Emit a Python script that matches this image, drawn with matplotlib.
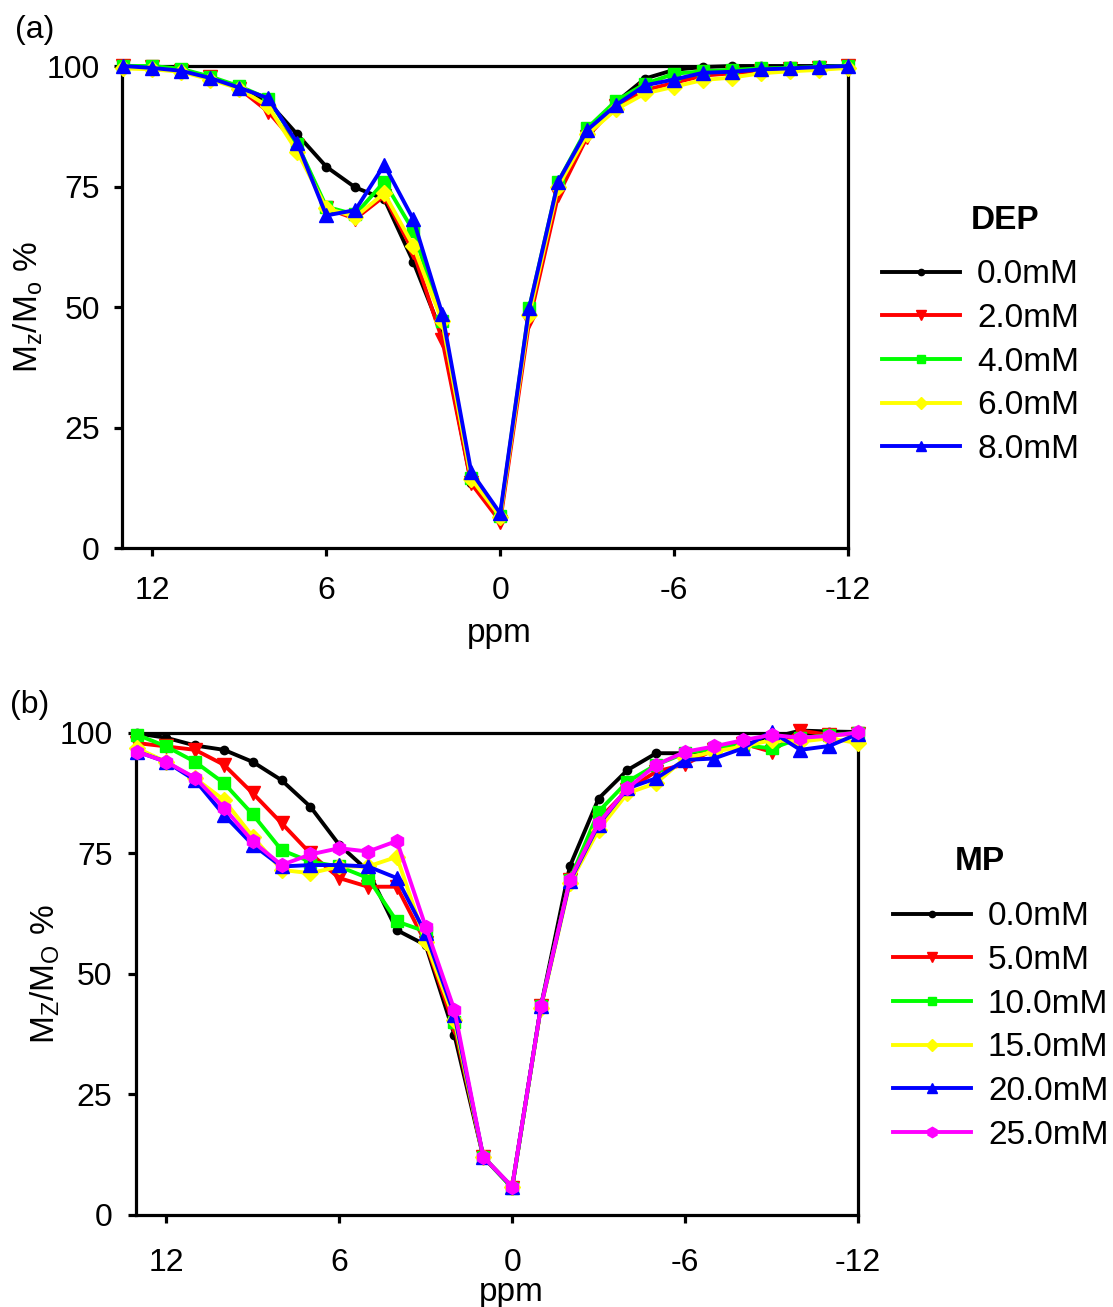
import numpy as np
import matplotlib
matplotlib.use("Agg")
import matplotlib.pyplot as plt

plt.rcParams['font.family'] = ['Liberation Sans', 'DejaVu Sans']
plt.rcParams['axes.unicode_minus'] = False

ppm = np.arange(13, -13, -1)

# (a) DEP series
dep_labels = ["0.0mM", "2.0mM", "4.0mM", "6.0mM", "8.0mM"]
dep_0 = [100, 99.7, 99, 97.5, 95.5, 92.5, 85.8, 79.1, 74.8, 72.4, 59.4, 44.3, 13.5,
         6.5, 48.5, 75, 86.5, 92.5, 97.4, 99.2, 99.8, 100, 100, 100, 100, 100]
dep_2 = [100, 99.7, 99, 97.8, 95.3, 90.5, 83.5, 70.5, 68.3, 73, 61.5, 43.2, 13.4,
         5.5, 47, 73.2, 85.3, 91.8, 95, 96.5, 98, 98.5, 99, 99.3, 99.6, 100]
dep_4 = [100, 100, 99.4, 97.8, 95.8, 93.2, 83.8, 70.8, 69.2, 76, 65.8, 47.2, 14.6,
         6.7, 49.8, 76, 87.1, 92.8, 96.3, 98.4, 98.9, 99.2, 99.5, 99.6, 99.8, 100]
dep_6 = [99.5, 99.3, 98.8, 97.2, 95.3, 91.6, 82.2, 70.5, 68.7, 73.6, 62.7, 47, 14.4,
         6.5, 48.4, 75, 85.8, 91, 94.3, 95.7, 97.1, 97.6, 98.5, 98.9, 99.2, 99.6]
dep_8 = [100, 99.6, 99, 97.5, 95.5, 93.3, 84, 69, 70.1, 79.5, 68.2, 48.6, 15.8,
         7.2, 49.8, 76, 86.7, 91.9, 96, 97.2, 98.6, 98.8, 99.3, 99.5, 99.8, 100]

# (b) MP series
mp_labels = ["0.0mM", "5.0mM", "10.0mM", "15.0mM", "20.0mM", "25.0mM"]
mp_0 = [99.9, 99, 97.4, 96.5, 94, 90.2, 84.7, 76.8, 71.4, 59.1, 56, 37.3, 12,
        5.8, 43.3, 72.3, 86.4, 92.3, 95.8, 95.8, 96.5, 97.5, 99, 100.5, 100.3, 100.2]
mp_5 = [97.9, 97.2, 96.5, 93.4, 87.5, 81.3, 75, 69.9, 68.1, 68.1, 56.5, 39, 12,
        5.7, 43.3, 69.5, 82, 88.2, 92, 93.5, 96.5, 97.8, 96.1, 100.5, 99.6, 99.8]
mp_10 = [99.6, 97.2, 94, 89.6, 83.1, 75.7, 73.3, 72.3, 69.9, 60.9, 58.8, 40.1, 12,
         5.6, 43.3, 69.5, 83.7, 89.9, 93.4, 95.8, 96.8, 97.5, 96.8, 98.9, 99.6, 100]
mp_15 = [96.8, 94, 90.6, 86.1, 78.5, 71.6, 70.9, 72.3, 72.3, 74.3, 56.7, 40.5, 12,
         5.8, 43, 68.8, 79.9, 87.5, 89.6, 94.8, 96.1, 97.2, 98.5, 98.2, 98.9, 97.9]
mp_20 = [96.1, 94, 90.2, 83, 76.8, 72.3, 72.6, 72.6, 72.3, 69.9, 58.4, 41.5, 12,
         5.8, 43.3, 69.2, 81, 88.5, 90.6, 94.4, 94.7, 96.8, 100.3, 96.5, 97.3, 99.8]
mp_25 = [96.1, 94, 90.7, 84.5, 77.5, 72.6, 74.8, 76.1, 75.4, 77.6, 59.8, 42.5, 12,
         5.9, 43.3, 69.5, 81.3, 88.5, 93.4, 96.1, 97.2, 98.5, 99.6, 99, 99.4, 100.1]

colors = ['#000000', '#ff0000', '#00ff00', '#ffff00', '#0000ff', '#ff00ff']
markers = ['o', 'v', 's', 'D', '^', 'h']
msizes = [6, 10, 8, 8, 10, 10]

fig = plt.figure(figsize=(11.13, 13.07), dpi=100)
ax1 = fig.add_axes([0.1096, 0.5807, 0.6523, 0.3688])
ax2 = fig.add_axes([0.1222, 0.0704, 0.6487, 0.3688])


def style(ax, ylab, xpad, ypad):
    ax.set_xlim(13.05, -12)
    ax.set_ylim(0, 100)
    ax.set_xticks([12, 6, 0, -6, -12])
    ax.set_yticks([0, 25, 50, 75, 100])
    for s in ax.spines.values():
        s.set_linewidth(2.3)
    ax.tick_params(direction='out', length=6, width=2.3, labelsize=23,
                   top=False, right=False)
    ax.tick_params(axis='x', pad=xpad)
    ax.tick_params(axis='y', pad=ypad)
    ax.set_ylabel(ylab, fontsize=24)
    ax.set_xlabel('ppm', fontsize=24)


def draw(ax, series):
    hs = []
    for i, y in enumerate(series):
        h, = ax.plot(ppm, y, color=colors[i], marker=markers[i], ms=msizes[i],
                     lw=2.8, mec=colors[i], clip_on=False, zorder=3 + i)
        hs.append(h)
    return hs


legkw = dict(loc='upper left', frameon=False, fontsize=24, handlelength=2.35,
             handletextpad=0.5, labelspacing=0.38, markerscale=0.75,
             borderpad=0, borderaxespad=0, bbox_transform=fig.transFigure)

h1 = draw(ax1, [dep_0, dep_2, dep_4, dep_6, dep_8])
style(ax1, r'M$_\mathregular{z}$/M$_\mathregular{o}$ %', 14, 10)
ax1.yaxis.set_label_coords(-0.106, 0.5)
ax1.xaxis.set_label_coords(0.52, -0.145)
ax1.legend(h1, dep_labels, bbox_to_anchor=(0.7925, 0.8015), **legkw)
fig.text(0.903, 0.831, 'DEP', fontsize=24, fontweight='bold', ha='center', va='center')

h2 = draw(ax2, [mp_0, mp_5, mp_10, mp_15, mp_20, mp_25])
style(ax2, r'M$_\mathregular{Z}$/M$_\mathregular{O}$ %', 18, 11)
ax2.yaxis.set_label_coords(-0.102, 0.5)
ax2.xaxis.set_label_coords(0.52, -0.128)
ax2.legend(h2, mp_labels, bbox_to_anchor=(0.8023, 0.3103), **legkw)
fig.text(0.880, 0.341, 'MP', fontsize=24, fontweight='bold', ha='center', va='center')

fig.text(0.0135, 0.977, '(a)', fontsize=23, ha='left', va='center')
fig.text(0.009, 0.4606, '(b)', fontsize=23, ha='left', va='center')

fig.savefig('out.png', dpi=100)
